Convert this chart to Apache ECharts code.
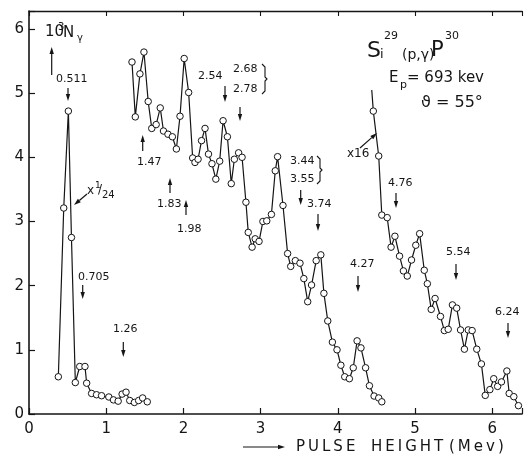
<!DOCTYPE html>
<html>
<head>
<meta charset="utf-8">
<script src="https://cdn.jsdelivr.net/npm/echarts@6/dist/echarts.min.js"></script>
<style>
  html, body { margin: 0; padding: 0; background: #fff; }
  #chart { width: 525px; height: 455px; }
</style>
</head>
<body>
<div id="chart"></div>
<script>
// annihilation peak + low-energy tail (plotted x 1/24)
const xPeak = [0.38, 0.45, 0.51, 0.55, 0.60, 0.657, 0.725, 0.747, 0.811, 0.875, 0.94,
  1.034, 1.094, 1.155, 1.206, 1.257, 1.305, 1.365, 1.42, 1.472, 1.532];
const yPeak = [0.58, 3.21, 4.72, 2.75, 0.49, 0.74, 0.74, 0.48, 0.32, 0.30, 0.285,
  0.265, 0.22, 0.20, 0.31, 0.34, 0.21, 0.18, 0.21, 0.25, 0.19];

// main spectrum, 1.3 - 4.6 MeV
const xMain = [1.334, 1.377, 1.437, 1.489, 1.544, 1.59, 1.647, 1.70, 1.742, 1.80, 1.857,
  1.909, 1.956, 2.01, 2.068, 2.12, 2.15, 2.19, 2.235, 2.28, 2.325, 2.37, 2.42, 2.47,
  2.514, 2.57, 2.62, 2.66, 2.715, 2.76, 2.81, 2.84, 2.89, 2.93, 2.98, 3.03, 3.08, 3.14,
  3.19, 3.22, 3.29, 3.35, 3.39, 3.45, 3.51, 3.56, 3.61, 3.66, 3.72, 3.78, 3.82, 3.87,
  3.93, 3.99, 4.04, 4.09, 4.15, 4.20, 4.25, 4.30, 4.36, 4.41, 4.47, 4.53, 4.57];
const yMain = [5.485, 4.63, 5.30, 5.64, 4.87, 4.45, 4.51, 4.77, 4.41, 4.36, 4.32,
  4.13, 4.64, 5.54, 5.01, 3.99, 3.92, 3.97, 4.26, 4.45, 4.05, 3.90, 3.66, 3.94,
  4.57, 4.32, 3.59, 3.97, 4.07, 4.00, 3.30, 2.83, 2.60, 2.73, 2.69, 3.00, 3.01, 3.11,
  3.79, 4.01, 3.25, 2.50, 2.30, 2.39, 2.35, 2.11, 1.75, 2.01, 2.39, 2.48, 1.88, 1.45,
  1.12, 1.00, 0.76, 0.58, 0.55, 0.72, 1.14, 1.03, 0.72, 0.44, 0.28, 0.25, 0.19];

// high-energy part (plotted x 16)
const xHigh = [4.44, 4.46, 4.53, 4.57, 4.64, 4.69, 4.74, 4.80, 4.85, 4.90, 4.955, 5.01,
  5.06, 5.12, 5.16, 5.21, 5.26, 5.33, 5.38, 5.43, 5.485, 5.54, 5.59, 5.64, 5.69, 5.74,
  5.80, 5.86, 5.91, 5.97, 6.02, 6.07, 6.12, 6.19, 6.22, 6.28, 6.34];
const yHigh = [5.05, 4.72, 4.02, 3.10, 3.06, 2.60, 2.77, 2.46, 2.23, 2.15, 2.40, 2.63,
  2.81, 2.24, 2.03, 1.63, 1.80, 1.52, 1.30, 1.32, 1.70, 1.65, 1.31, 1.01, 1.31, 1.30,
  1.01, 0.78, 0.29, 0.38, 0.55, 0.43, 0.50, 0.67, 0.32, 0.27, 0.13];

const xTicks = [0, 1, 2, 3, 4, 5, 6];
const yTicks = [0, 1, 2, 3, 4, 5, 6];

const INK = '#151515';
const FONT = '"DejaVu Sans", sans-serif';
const THIN = '\u2009';

const zip = (xs, ys) => xs.map((x, i) => [x, ys[i]]);
const spaced = s => s.split('').join(THIN);

function txt(x, y, s, size) {
  return {
    type: 'text', x: x, y: y, silent: true,
    style: { text: s, font: size + 'px ' + FONT, fill: INK,
      textAlign: 'left', align: 'left', textVerticalAlign: 'middle', verticalAlign: 'middle' }
  };
}
// straight arrow, head at (x2, y2)
function arrow(x1, y1, x2, y2) {
  const a = Math.atan2(y2 - y1, x2 - x1), L = 7, W = 2.2;
  const bx = x2 - L * Math.cos(a), by = y2 - L * Math.sin(a);
  const nx = -Math.sin(a) * W, ny = Math.cos(a) * W;
  return [
    { type: 'line', silent: true, shape: { x1: x1, y1: y1, x2: bx, y2: by },
      style: { stroke: INK, lineWidth: 1.2 } },
    { type: 'polygon', silent: true,
      shape: { points: [[x2, y2], [bx + nx, by + ny], [bx - nx, by - ny]] },
      style: { fill: INK } }
  ];
}
function brace(x, y1, y2) {
  return { type: 'polyline', silent: true,
    shape: { points: [[x, y1], [x + 3, y1 + 3], [x + 3, (y1 + y2) / 2 - 2], [x + 5, (y1 + y2) / 2],
      [x + 3, (y1 + y2) / 2 + 2], [x + 3, y2 - 3], [x, y2]] },
    style: { stroke: INK, fill: null, lineWidth: 1.1 } };
}

const graphics = [].concat(
  // y-axis quantity
  txt(45, 32, '10', 15), txt(58, 27, '3', 10), txt(63, 33, 'N', 15), txt(77, 38, 'γ', 10),
  arrow(51.7, 75, 51.7, 47),
  txt(56, 79, '0.511', 11), arrow(68, 88, 68, 101),
  txt(87, 191, 'x', 12), txt(95, 186, '1', 9), txt(98, 190, '/', 12), txt(102, 195, '24', 10),
  arrow(87, 194, 74, 205),
  txt(78, 277, '0.705', 11), arrow(82.7, 285, 82.7, 299),
  txt(113, 329, '1.26', 11), arrow(123.3, 342, 123.3, 357),
  txt(137, 162, '1.47', 11), arrow(142.7, 151, 142.7, 135),
  txt(157, 204, '1.83', 11), arrow(170, 193, 170, 178),
  txt(177, 229, '1.98', 11), arrow(186, 215, 186, 200),
  txt(198, 76, '2.54', 11), arrow(225, 86, 225, 102),
  txt(233, 69, '2.68', 11), txt(233, 89, '2.78', 11), brace(262, 64, 94),
  arrow(240, 107, 240, 121),
  txt(290, 161, '3.44', 11), txt(290, 179, '3.55', 11), brace(317, 156, 184),
  arrow(300.7, 190, 300.7, 205),
  txt(307, 204, '3.74', 11), arrow(318, 214, 318, 231),
  txt(350, 264, '4.27', 11), arrow(358, 276, 358, 292),
  txt(347, 154, 'x16', 12), arrow(360, 148, 377, 133),
  txt(388, 183, '4.76', 11), arrow(396, 193, 396, 208),
  txt(446, 252, '5.54', 11), arrow(456, 264, 456, 280),
  txt(495, 312, '6.24', 11), arrow(508, 323, 508, 338),
  // reaction label
  txt(367, 51, 'S', 22), txt(380, 55, 'i', 13), txt(384, 36, '29', 11),
  txt(402, 55, '(p,γ)', 14), txt(431, 51, 'P', 21), txt(445, 36, '30', 11),
  txt(389, 78, 'E', 15), txt(400, 85, 'p', 11), txt(407, 78, '= 693 kev', 15),
  txt(421, 103, 'ϑ = 55°', 16),
  // x-axis caption
  arrow(243, 447, 285, 447),
  txt(296, 447, spaced('PULSE'), 15), txt(371, 447, spaced('HEIGHT'), 15),
  txt(449, 447, spaced('(Mev)'), 15)
);

const lineSeries = (name, data) => ({
  name: name, type: 'line', data: data,
  symbol: 'circle', symbolSize: 6.5, showAllSymbol: true,
  lineStyle: { color: INK, width: 1.2 },
  itemStyle: { color: '#fff', borderColor: INK, borderWidth: 1 },
  z: 3
});

const highData = zip(xHigh, yHigh).map((d, i) => i === 0 ? { value: d, symbol: 'none' } : d);

const chart = echarts.init(document.getElementById('chart'), null, { renderer: 'canvas' });
chart.setOption({
  animation: false,
  backgroundColor: '#fff',
  grid: { left: 29, right: 0, top: 11, bottom: 41 },
  xAxis: [
    {
      type: 'value', min: xTicks[0], max: 6.386, interval: 1,
      axisLine: { lineStyle: { color: INK, width: 1.6 } },
      axisTick: { inside: true, length: 6, lineStyle: { color: INK, width: 1.2 } },
      axisLabel: { color: INK, fontSize: 15, fontFamily: FONT, margin: 8,
        formatter: v => xTicks.includes(v) ? String(v) : '' },
      splitLine: { show: false }
    },
    {
      type: 'value', position: 'top', min: xTicks[0], max: 6.386, interval: 1,
      axisLine: { show: true, lineStyle: { color: INK, width: 1.3 } },
      axisTick: { inside: true, length: 5, lineStyle: { color: INK, width: 1.1 } },
      axisLabel: { show: false },
      splitLine: { show: false }
    }
  ],
  yAxis: {
    type: 'value', min: yTicks[0], max: 6.28, interval: 1,
    axisLine: { show: true, lineStyle: { color: INK, width: 1.6 } },
    axisTick: { show: true, inside: true, length: 6, lineStyle: { color: INK, width: 1.2 } },
    axisLabel: { color: INK, fontSize: 15, fontFamily: FONT, margin: 5,
      formatter: v => yTicks.includes(v) ? String(v) : '' },
    splitLine: { show: false }
  },
  series: [
    lineSeries('x 1/24', zip(xPeak, yPeak)),
    lineSeries('main', zip(xMain, yMain)),
    lineSeries('x 16', highData)
  ],
  graphic: graphics
});
</script>
</body>
</html>
